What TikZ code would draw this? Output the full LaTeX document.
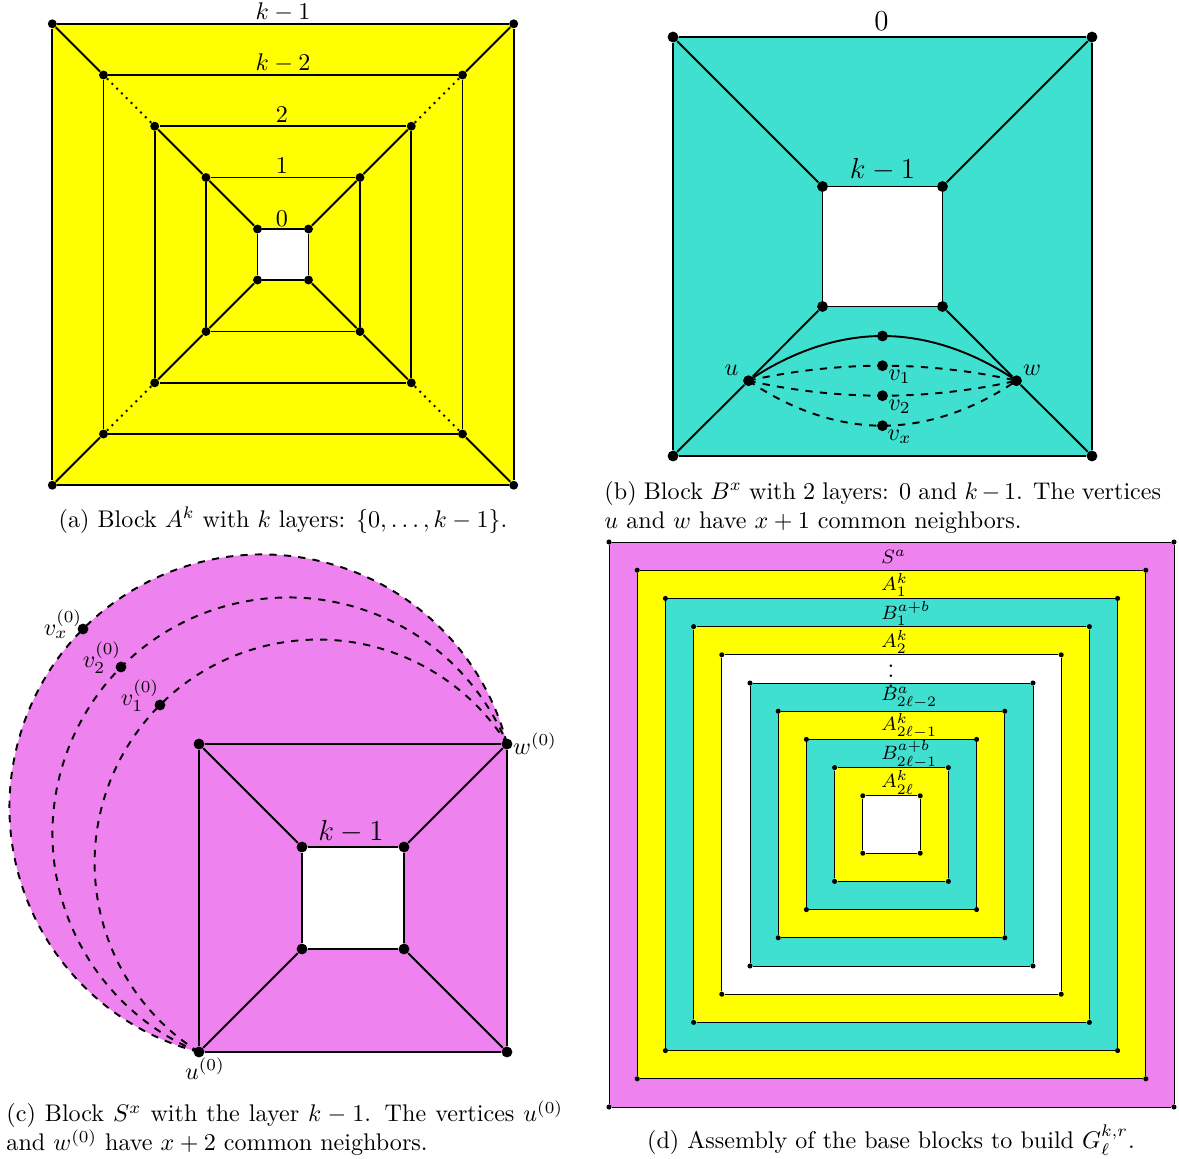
\documentclass[tikz,border=0pt]{standalone}
\usepackage{amsmath}
\usepackage{amssymb}
\usetikzlibrary{positioning}
\definecolor{yellowA}{RGB}{255,255,0}
\definecolor{turqB}{RGB}{64,224,208}
\definecolor{violetS}{RGB}{238,130,238}

\begin{document}
\begin{tikzpicture}[
    x=0.415pt, y=-0.415pt,
    vtx/.style={circle, fill=black, inner sep=0pt, minimum size=3.7pt},
    bigvtx/.style={circle, fill=black, inner sep=0pt, minimum size=4.5pt},
    tinyvtx/.style={circle, fill=black, inner sep=0pt, minimum size=2.1pt},
    ringlabel/.style={font=\footnotesize, inner sep=0pt, anchor=west},
    capbox/.style={text width=231pt, align=justify, anchor=north west, inner sep=0pt},
  ]
  \useasboundingbox (0,0) rectangle (1179,1158);

  % (a) block A^k
  \fill[yellowA, even odd rule] (52.3,23.8) rectangle (513.7,485.2)
    (257.5,229) rectangle (308.5,280);
  \foreach \n/\h in {0/25.5, 1/77, 2/128.3, 3/179.5, 4/230.7} {
    \node[vtx] (a\n-nw) at (283-\h,254.5-\h) {};
    \node[vtx] (a\n-ne) at (283+\h,254.5-\h) {};
    \node[vtx] (a\n-se) at (283+\h,254.5+\h) {};
    \node[vtx] (a\n-sw) at (283-\h,254.5+\h) {};
    \draw[thick] (a\n-nw) -- (a\n-ne) -- (a\n-se) -- (a\n-sw) -- (a\n-nw);
  }
  \foreach \c in {nw,ne,se,sw} {
    \draw[thick] (a0-\c) -- (a1-\c) -- (a2-\c);
    \draw[thick, dotted] (a2-\c) -- (a3-\c);
    \draw[thick] (a3-\c) -- (a4-\c);
  }
  \node (la4) at (283,12.3) {$k-1$};
  \node (la3) at (283,63.3) {$k-2$};
  \node (la2) at (282,115) {$2$};
  \node (la1) at (282,165.7) {$1$};
  \node (la0) at (282,218.3) {$0$};
  \node (capa) at (283,520) {(a) Block $A^k$ with $k$ layers: $\{0,\dots,k-1\}$.};

  % (b) block B^x
  \fill[turqB, even odd rule] (673,37) rectangle (1092,456)
    (822.5,186.5) rectangle (942.5,306.5);
  \foreach \n/\h in {o/209.5, i/60} {
    \node[bigvtx] (b\n-nw) at (882.5-\h,246.5-\h) {};
    \node[bigvtx] (b\n-ne) at (882.5+\h,246.5-\h) {};
    \node[bigvtx] (b\n-se) at (882.5+\h,246.5+\h) {};
    \node[bigvtx] (b\n-sw) at (882.5-\h,246.5+\h) {};
    \draw[thick] (b\n-nw) -- (b\n-ne) -- (b\n-se) -- (b\n-sw) -- (b\n-nw);
  }
  \node[bigvtx] (u) at (748.5,380.7) {};
  \node[bigvtx] (w) at (1016.5,380.7) {};
  \draw[thick] (bo-nw) -- (bi-nw);
  \draw[thick] (bo-ne) -- (bi-ne);
  \draw[thick] (bo-sw) -- (u) -- (bi-sw);
  \draw[thick] (bo-se) -- (w) -- (bi-se);
  \node[bigvtx] (t0) at (882.5,336) {};
  \node[bigvtx] (v1) at (882.5,365.7) {};
  \node[bigvtx] (v2) at (882.5,395.7) {};
  \node[bigvtx] (vx) at (882.5,425.7) {};
  \draw[thick] (u.center) parabola bend (t0.center) (w.center);
  \draw[thick, dashed] (u.center) parabola bend (v1.center) (w.center);
  \draw[thick, dashed] (u.center) parabola bend (v2.center) (w.center);
  \draw[thick, dashed] (u.center) parabola bend (vx.center) (w.center);
  \node (lu) at (731.5,370) {$u$};
  \node (lw) at (1032,370) {$w$};
  \node (lv1) at (899.5,376.7) {$v_1$};
  \node (lv2) at (899.5,406.7) {$v_2$};
  \node (lvx) at (899.5,436.7) {$v_x$};
  \node[font=\large] (lbo) at (881.5,21) {$0$};
  \node[font=\large] (lbi) at (882.5,170) {$k-1$};
  \node[capbox] (capb) at (604,481) {(b) Block $B^x$ with 2 layers: 0 and $k-1$. The vertices $u$ and $w$ have $x+1$ common neighbors.};

  % (c) block S^x
  \fill[violetS, even odd rule] (199,1052) arc[start angle=104.5, end angle=345.5, radius=252.8]
    -- (507,1052) -- cycle (301,847) rectangle (403,949);
  \draw[thick, dashed] (199,1052) arc[start angle=104.5, end angle=345.5, radius=252.8];
  \draw[thick, dashed] (199,1052) arc[start angle=112.3, end angle=337.7, radius=236.1];
  \draw[thick, dashed] (199,1052) arc[start angle=122.2, end angle=327.8, radius=223.4];
  \foreach \n/\h in {o/154, i/51} {
    \node[bigvtx] (c\n-nw) at (353-\h,898-\h) {};
    \node[bigvtx] (c\n-ne) at (353+\h,898-\h) {};
    \node[bigvtx] (c\n-se) at (353+\h,898+\h) {};
    \node[bigvtx] (c\n-sw) at (353-\h,898+\h) {};
    \draw[thick] (c\n-nw) -- (c\n-ne) -- (c\n-se) -- (c\n-sw) -- (c\n-nw);
  }
  \foreach \c in {nw,ne,se,sw}
    \draw[thick] (co-\c) -- (ci-\c);
  \node[bigvtx] (vx0) at (83,629) {};
  \node[bigvtx] (v20) at (121,667) {};
  \node[bigvtx] (v10) at (160,705) {};
  \node (lvx0) at (63,624) {$v_x^{(0)}$};
  \node (lv20) at (102,658) {$v_2^{(0)}$};
  \node (lv10) at (140,696) {$v_1^{(0)}$};
  \node (lu0) at (205,1069) {$u^{(0)}$};
  \node (lw0) at (535,744) {$w^{(0)}$};
  \node[font=\large] (lci) at (351,832) {$k-1$};
  \node[capbox] (capc) at (6,1100) {(c) Block $S^x$ with the layer $k-1$. The vertices $u^{(0)}$ and $w^{(0)}$ have $x+2$ common neighbors.};

  % (d) assembly of the blocks
  \foreach \i/\col in {0/violetS, 1/yellowA, 2/turqB, 3/yellowA, 4/white,
                       5/turqB, 6/yellowA, 7/turqB, 8/yellowA, 9/white} {
    \pgfmathsetmacro{\h}{282.5-28.2*\i}
    \fill[\col] (891.5-\h,824.5-\h) rectangle (891.5+\h,824.5+\h);
  }
  \foreach \i in {0,...,9} {
    \pgfmathsetmacro{\h}{282.5-28.2*\i}
    \node[tinyvtx] (d\i-nw) at (891.5-\h,824.5-\h) {};
    \node[tinyvtx] (d\i-ne) at (891.5+\h,824.5-\h) {};
    \node[tinyvtx] (d\i-se) at (891.5+\h,824.5+\h) {};
    \node[tinyvtx] (d\i-sw) at (891.5-\h,824.5+\h) {};
    \draw[thin] (d\i-nw) -- (d\i-ne) -- (d\i-se) -- (d\i-sw) -- (d\i-nw);
  }
  \foreach \i/\t in {0/S^a, 1/A_1^k, 2/B_1^{a+b}, 3/A_2^k, 5/B_{2\ell-2}^a,
                     6/A_{2\ell-1}^k, 7/B_{2\ell-1}^{a+b}, 8/A_{2\ell}^k}
    \node[ringlabel] (dl\i) at (881, 557+28.2*\i) {$\t$};
  \node[font=\normalsize, inner sep=0pt] (dl4) at (891,669) {$\vdots$};
  \node (capd) at (891,1140) {(d) Assembly of the base blocks to build $G_\ell^{k,r}$.};
\end{tikzpicture}
\end{document}
